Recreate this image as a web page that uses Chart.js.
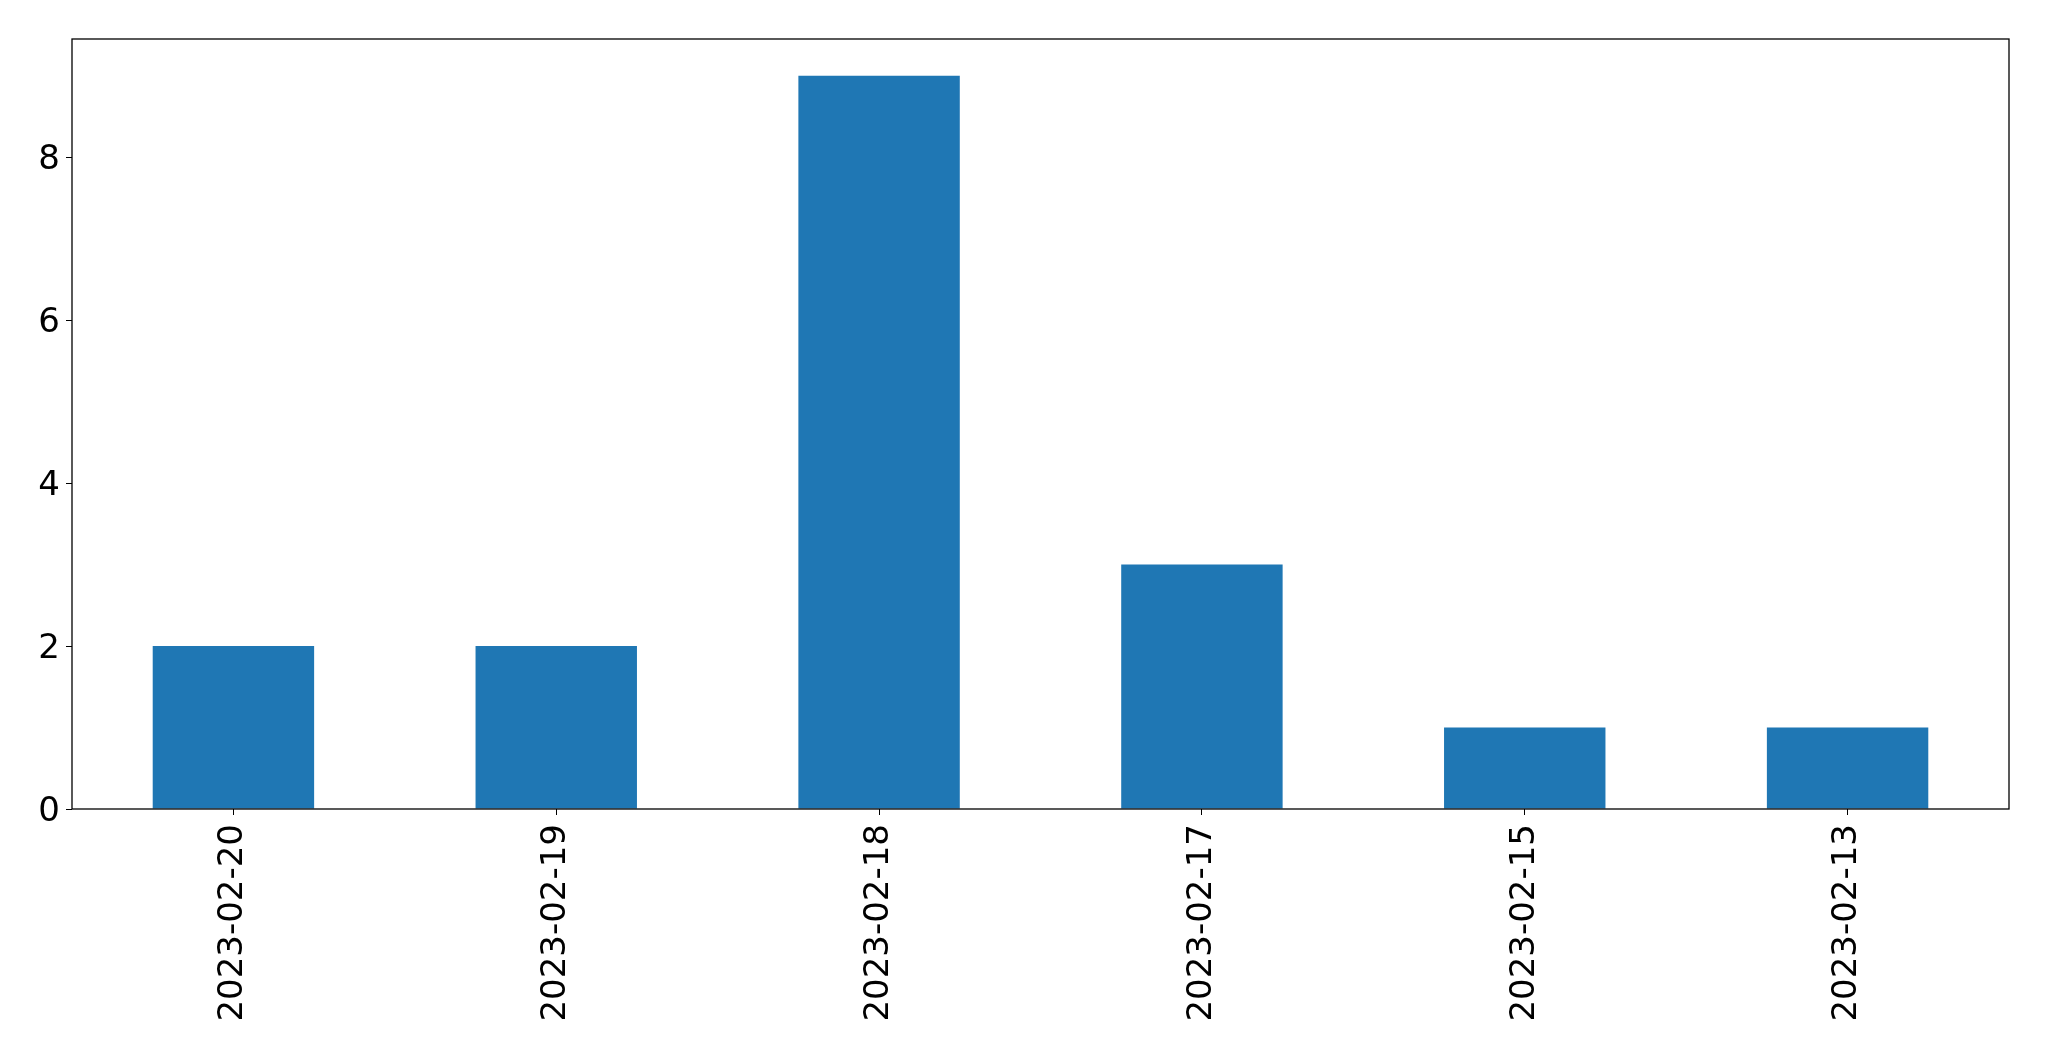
<!DOCTYPE html>
<html>
<head>
<meta charset="utf-8">
<script src="https://cdn.jsdelivr.net/npm/chart.js@4"></script>
<style>
  html, body { margin: 0; padding: 0; background: #fff; }
  #wrap { width: 2049px; height: 1061px; }
</style>
</head>
<body>
<div id="wrap"><canvas id="chart" width="2049" height="1061"></canvas></div>
<script>
// Data
const dates = ['2023-02-20', '2023-02-19', '2023-02-18', '2023-02-17', '2023-02-15', '2023-02-13'];
const counts = [2, 2, 9, 3, 1, 1];
const yTicks = [0, 2, 4, 6, 8];

// Draw the box around the plot area, like matplotlib's spines
const frame = {
  id: 'frame',
  afterDraw(chart) {
    const { ctx, chartArea: a } = chart;
    ctx.save();
    ctx.strokeStyle = '#000';
    ctx.lineWidth = 1.3;
    ctx.strokeRect(a.left, a.top, a.right - a.left, a.bottom - a.top);
    ctx.restore();
  }
};

const font = { family: 'DejaVu Sans', size: 34 };

new Chart(document.getElementById('chart').getContext('2d'), {
  type: 'bar',
  data: {
    labels: dates,
    datasets: [{
      data: counts,
      backgroundColor: '#1f77b4',
      borderWidth: 0,
      categoryPercentage: 1.0,
      barPercentage: 0.5
    }]
  },
  options: {
    responsive: false,
    animation: false,
    layout: { padding: { top: 39, right: 40, left: 0, bottom: 0 } },
    plugins: { legend: { display: false }, tooltip: { enabled: false } },
    scales: {
      x: {
        grid: { display: true, drawOnChartArea: false, drawTicks: true, tickLength: 6, color: '#000', offset: false },
        border: { display: false },
        ticks: { color: '#000', font, minRotation: 90, maxRotation: 90, padding: 9, autoSkip: false },
        afterFit(scale) { scale.height = 252; }
      },
      y: {
        min: 0,
        max: 9.45,
        afterBuildTicks(scale) { scale.ticks = yTicks.map(v => ({ value: v })); },
        grid: { display: true, drawOnChartArea: false, drawTicks: true, tickLength: 6, color: '#000' },
        border: { display: false },
        ticks: { color: '#000', font, padding: 6, labelOffset: 3 },
        afterFit(scale) { scale.width = 72; }
      }
    }
  },
  plugins: [frame]
});
</script>
</body>
</html>
